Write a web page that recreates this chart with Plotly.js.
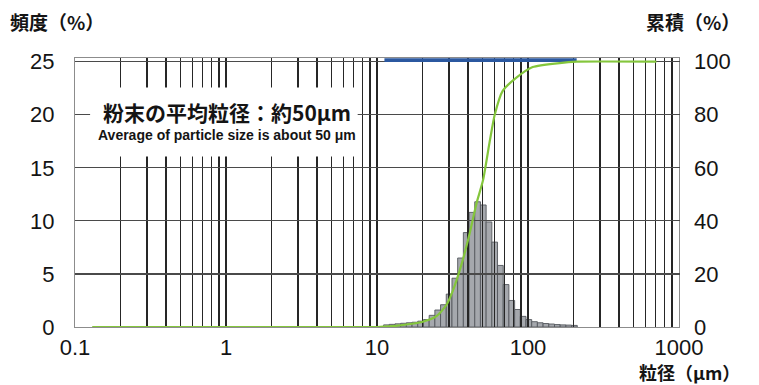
<!DOCTYPE html>
<html>
<head>
<meta charset="utf-8">
<script src="https://cdn.plot.ly/plotly-3.0.1.min.js"></script>
<style>html,body{margin:0;padding:0;background:#fff;}#chart{width:759px;height:385px;}</style>
</head>
<body>
<div id="chart"></div>
<script>
// Particle size bin edges (µm) and frequency (%) per bin
const binEdges = [11.06, 12.06, 13.16, 14.35, 15.65, 17.07, 18.62, 20.31, 22.16, 24.17,
  26.36, 28.75, 31.37, 34.21, 37.31, 40.70, 44.40, 48.42, 52.81, 57.61,
  62.84, 68.54, 74.75, 81.55, 88.94, 97.01, 105.8, 115.4, 125.9, 137.3,
  149.8, 163.4, 178.2, 194.4, 212.0];
const frequency = [0.2, 0.25, 0.3, 0.35, 0.4, 0.45, 0.55, 0.7, 1.1, 1.6,
  2.1, 3.1, 4.6, 6.5, 8.9, 10.8, 11.8, 11.5, 9.9, 8.0,
  5.8, 4.0, 2.5, 1.65, 1.0, 0.7, 0.5, 0.4, 0.33, 0.28,
  0.23, 0.2, 0.18, 0.15];

// Cumulative curve (µm, %)
const cumSize = [0.13, 10, 12, 14.8, 20.1, 24.8, 28.8, 31.9, 36.2, 41.1, 45.6, 50.4, 55.8, 60.2, 68.0, 83.8, 107.4, 162, 210, 708];
const cumPct  = [0, 0, 0.2, 0.75, 2.0, 4.1, 8.3, 13.9, 23.4, 35.3, 46.6, 55.4, 70, 80, 89, 94, 98, 99.5, 100, 100];

// Measurement range bar (µm)
const rangeSize = [11.2, 210];
const rangeLevel = [100.6, 100.6];

// Tick labels
const xTickVals = [0.1,0.2,0.3,0.4,0.5,0.6,0.7,0.8,0.9,1,2,3,4,5,6,7,8,9,10,20,30,40,50,60,70,80,90,100,200,300,400,500,600,700,800,900,1000];
const xTickText = ['0.1','','','','','','','','','1','','','','','','','','','10','','','','','','','','','100','','','','','','','','','1000'];
const yLeftTicks = [0, 5, 10, 15, 20, 25];
const yRightTicks = [0, 20, 40, 60, 80, 100];

const barX = binEdges.slice(0, -1);
const barW = binEdges.slice(1).map((e, i) => e - binEdges[i]);

const JP = '"Noto Sans CJK JP", "Noto Sans", sans-serif';
const LAT = '"Liberation Sans", Arial, Helvetica, sans-serif';
const INK = '#141414';

const traces = [
  {
    type: 'bar', x: barX, y: frequency, width: barW, offset: 0,
    xaxis: 'x', yaxis: 'y',
    marker: {color: '#a5a8ad', line: {color: '#55585d', width: 0.9}},
    hoverinfo: 'skip'
  },
  {
    type: 'scatter', mode: 'lines', x: rangeSize, y: rangeLevel,
    xaxis: 'x2', yaxis: 'y2',
    line: {color: '#2b58a0', width: 3.6}, hoverinfo: 'skip'
  },
  {
    type: 'scatter', mode: 'lines', x: cumSize, y: cumPct,
    xaxis: 'x2', yaxis: 'y2',
    line: {color: '#84c63c', width: 2.2, shape: 'spline', smoothing: 0.6}, hoverinfo: 'skip'
  }
];

const layout = {
  width: 759, height: 385,
  margin: {l: 75, r: 79.5, t: 57.5, b: 58.3, pad: 0},
  paper_bgcolor: '#ffffff', plot_bgcolor: 'rgba(0,0,0,0)',
  showlegend: false,
  font: {family: LAT, color: INK},
  xaxis: {
    type: 'log', range: [-1, 3], domain: [0, 1], anchor: 'y',
    tickmode: 'array', tickvals: xTickVals, ticktext: xTickText,
    ticks: 'inside', ticklen: 269, tickwidth: 1.4, tickcolor: '#262626',
    showgrid: false, zeroline: false,
    showline: true, mirror: true, linecolor: '#8c8c8c', linewidth: 1,
    layer: 'above traces', tickfont: {size: 22, family: LAT, color: INK},
    ticklabelstandoff: 1
  },
  yaxis: {
    range: [0, 25.35], domain: [0, 1], anchor: 'x',
    tickmode: 'array', tickvals: yLeftTicks,
    ticks: 'inside', ticklen: 604.5, tickwidth: 1.2, tickcolor: '#4a4a4a',
    showgrid: false, zeroline: false,
    showline: true, mirror: true, linecolor: '#8c8c8c', linewidth: 1,
    layer: 'above traces', tickfont: {size: 22, family: LAT, color: INK},
    ticklabelstandoff: 15
  },
  xaxis2: {type: 'log', range: [-1, 3], domain: [0, 1], anchor: 'y2', visible: false},
  yaxis2: {
    range: [0, 101.4], domain: [0, 1], anchor: 'x2', side: 'right',
    tickmode: 'array', tickvals: yRightTicks, ticks: '',
    showgrid: false, zeroline: false, showline: false,
    tickfont: {size: 22, family: LAT, color: INK},
    ticklabelstandoff: 14
  },
  shapes: [
    {type: 'rect', xref: 'paper', yref: 'paper', x0: 0.025, x1: 0.468, y0: 0.634, y1: 0.890,
     fillcolor: '#ffffff', line: {width: 0}, layer: 'above'}
  ],
  annotations: [
    {xref: 'paper', yref: 'paper', x: -0.111, y: 1.136, xanchor: 'left', yanchor: 'middle',
     text: '頻度（%）', showarrow: false, font: {family: JP, size: 19, color: INK, weight: 'bold'}},
    {xref: 'paper', yref: 'paper', x: 1.105, y: 1.136, xanchor: 'right', yanchor: 'middle',
     text: '累積（%）', showarrow: false, font: {family: JP, size: 19, color: INK, weight: 'bold'}},
    {xref: 'paper', yref: 'paper', x: 1.105, y: -0.167, xanchor: 'right', yanchor: 'middle',
     text: '粒径（μm）', showarrow: false, font: {family: JP, size: 18, color: INK, weight: 'bold'}},
    {xref: 'paper', yref: 'paper', x: 0.251, y: 0.800, xanchor: 'center', yanchor: 'middle',
     text: '粉末の平均粒径：約50μm', showarrow: false, font: {family: JP, size: 21, color: INK, weight: 'bold'}},
    {xref: 'paper', yref: 'paper', x: 0.251, y: 0.714, xanchor: 'center', yanchor: 'middle',
     text: 'Average of particle size is about 50 μm', showarrow: false, font: {family: LAT, size: 14, color: INK, weight: 'bold'}}
  ]
};

Plotly.newPlot('chart', traces, layout, {staticPlot: true, displayModeBar: false});
</script>
</body>
</html>
